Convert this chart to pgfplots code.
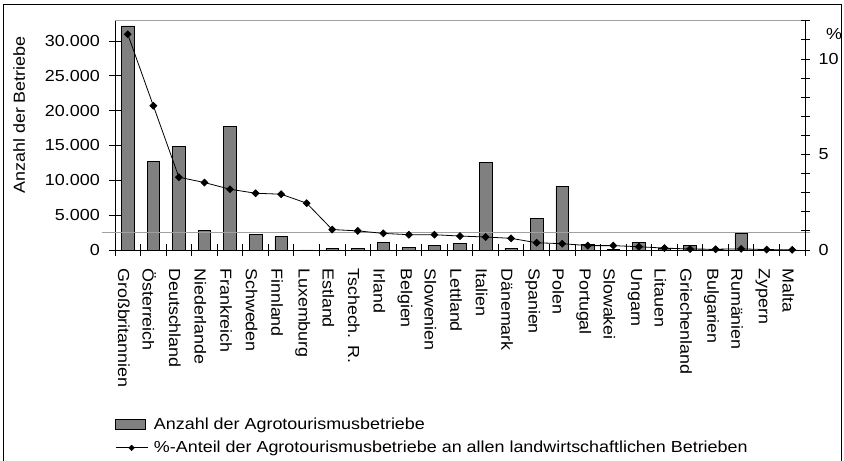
\documentclass[border=0pt]{standalone}
\usepackage{pgfplots}
\pgfplotsset{compat=1.18}
\usepackage{pgfplotstable}
\usepackage{fontspec}
\setmainfont{Liberation Sans}[FakeStretch=1.12]
\definecolor{barfill}{RGB}{128,128,128}
\definecolor{gridgray}{RGB}{160,160,160}
\newcommand{\fs}{\fontsize{16bp}{19bp}\selectfont}

\pgfplotstableread{
x bars pct
0 32150 11.29
1 12750 7.55
2 14900 3.81
3 2800 3.53
4 17700 3.18
5 2250 2.97
6 1900 2.92
7 20 2.45
8 250 1.07
9 250 1.00
10 1100 0.87
11 430 0.80
12 620 0.80
13 960 0.73
14 12570 0.68
15 240 0.61
16 4540 0.38
17 9075 0.33
18 810 0.23
19 100 0.23
20 1100 0.17
21 200 0.10
22 640 0.05
23 100 0.04
24 2400 0.06
25 60 0.02
26 20 0.01
}\data

\begin{document}
\begin{tikzpicture}[font=\fs]
\useasboundingbox (0,0) rectangle (844bp,461bp);
\draw[black, line width=1bp] (3bp,-5bp) rectangle (841bp,456bp);

\begin{axis}[
  at={(115bp,211bp)}, anchor=south west,
  scale only axis, width=690bp, height=229.3bp,
  xmin=-0.5, xmax=26.5, ymin=0, ymax=32900,
  clip=false,
  axis x line*=bottom, axis y line*=left,
  axis line style={black, line width=0.8bp},
  tick style={black, line width=0.8bp},
  tick align=center, major tick length=12bp,
  xtick={-0.5,0.5,...,26.5},
  x tick label as interval,
  xticklabels={Großbritannien, Österreich, Deutschland, Niederlande, Frankreich, Schweden, Finnland, Luxemburg, Estland, Tschech. R., Irland, Belgien, Slowenien, Lettland, Italien, Dänemark, Spanien, Polen, Portugal, Slowakei, Ungarn, Litauen, Griechenland, Bulgarien, Rumänien, Zypern, Malta, {}},
  xticklabel style={font=\fs, inner sep=0pt, xshift=-4bp, yshift=-12bp, rotate=-90, anchor=west},
  ytick={0,5000,...,30000},
  scaled y ticks=false,
  /pgf/number format/assume math mode=true,
  yticklabel style={font=\fs, /pgf/number format/1000 sep={.}, inner sep=0pt, anchor=east, xshift=-9bp},
  ylabel={Anzahl der Betriebe},
  ylabel style={font=\fs, at={(axis description cs:-0.139,0.589)}, anchor=center},
  legend style={at={(rel axis cs:0,0)}, anchor=north west, yshift=-168bp, draw=none, fill=none, inner sep=0pt, row sep=10bp, column sep=6bp, nodes={inner sep=0pt, font=\fs}},
  legend cell align=left,
]
\addplot[ybar, bar width=12.5bp, fill=barfill, draw=black, line width=0.6bp,
  legend image code/.code={\draw[fill=barfill, draw=black, line width=0.6bp] (0bp,-5bp) rectangle (30bp,5bp);}]
  table[x=x, y=bars]{\data};
\addlegendentry{Anzahl der Agrotourismusbetriebe}
\addlegendimage{legend image code/.code={\draw[black, line width=0.8bp] (0bp,0bp) -- (32bp,0bp); \fill[black] (16bp,2.8bp) -- (18.8bp,0bp) -- (16bp,-2.8bp) -- (13.2bp,0bp) -- cycle;}}
\addlegendentry{\%-Anteil der Agrotourismusbetriebe an allen landwirtschaftlichen Betrieben}
\draw[gridgray, line width=0.8bp] ([xshift=-13bp]axis cs:-0.5,2480) -- ([xshift=5bp]axis cs:26.5,2480);
\draw[gridgray, line width=0.8bp] (rel axis cs:0,1) -- (rel axis cs:1,1);
\end{axis}

\begin{axis}[
  at={(115bp,211bp)}, anchor=south west,
  scale only axis, width=690bp, height=229.3bp,
  xmin=-0.5, xmax=26.5, ymin=0, ymax=12,
  clip=false,
  axis x line=none, axis y line*=right,
  axis line style={black, line width=0.8bp},
  tick style={black, line width=0.8bp},
  tick align=center, major tick length=9bp, minor tick length=9bp,
  ytick={0,5,10}, minor ytick={0,1,...,12},
  /pgf/number format/assume math mode=true,
  yticklabel style={font=\fs, inner sep=0pt, anchor=west, xshift=9bp},
  ylabel={\%},
  ylabel style={font=\fs, rotate=-90, at={(axis description cs:1.042,0.942)}, anchor=center},
]
\addplot[black, line width=0.8bp, mark=square*, mark size=2.4bp, mark options={rotate=45, solid}]
  table[x=x, y=pct]{\data};
\end{axis}
\end{tikzpicture}
\end{document}
